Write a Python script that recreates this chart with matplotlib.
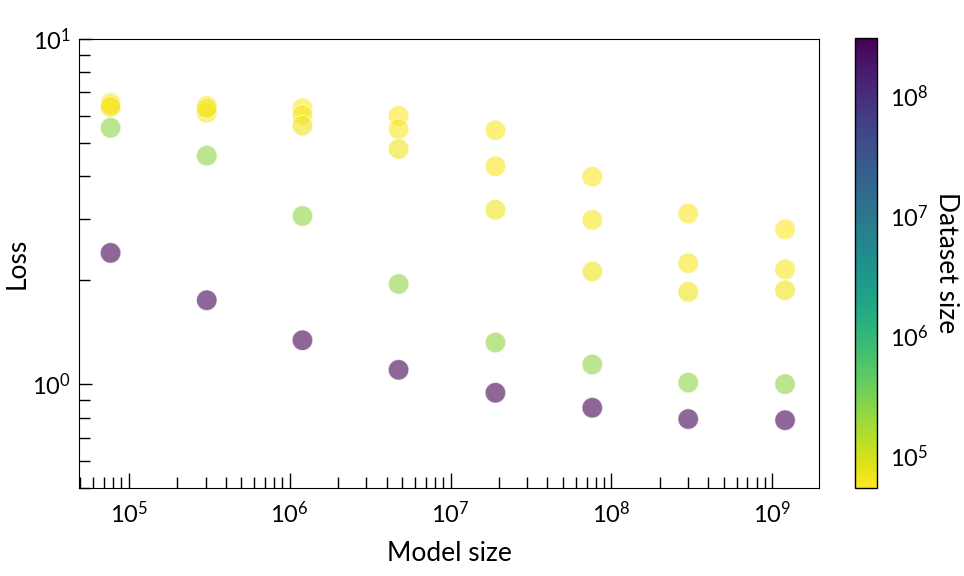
import numpy as np
import matplotlib
matplotlib.use('Agg')
from matplotlib import pyplot as plt
from matplotlib.colors import LogNorm
from matplotlib.cm import ScalarMappable

plt.rcParams['font.family'] = ['Lato', 'DejaVu Sans']
plt.rcParams['mathtext.fontset'] = 'custom'
plt.rcParams['mathtext.rm'] = 'Lato'
plt.rcParams['mathtext.it'] = 'Lato:italic'
plt.rcParams['mathtext.bf'] = 'Lato:bold'

# model sizes (x positions of the columns)
model_sizes = [7.7e4, 3.05e5, 1.2e6, 4.75e6, 1.9e7, 7.6e7, 3.0e8, 1.2e9]
# dataset sizes used for colour
data_small = [5.4e4, 5.8e4, 6.4e4]
data_mid = 2.3e5
data_big = 3.0e8

# loss per dataset, one value per model size
loss_y1 = [6.55, 6.40, 6.30, 5.99, 5.44, 3.99, 3.12, 2.81]
loss_y2 = [6.45, 6.11, 6.02, 5.48, 4.28, 2.99, 2.24, 2.15]
loss_y3 = [6.35, 6.30, 5.61, 4.80, 3.20, 2.12, 1.85, 1.87]
loss_mid = [5.53, 4.59, 3.07, 1.95, 1.32, 1.14, 1.01, 1.00]
loss_big = [2.40, 1.75, 1.34, 1.10, 0.944, 0.854, 0.792, 0.786]

xs, ys, cs = [], [], []
for d, l in zip(data_small + [data_mid, data_big],
                [loss_y1, loss_y2, loss_y3, loss_mid, loss_big]):
    xs += model_sizes
    ys += l
    cs += [d] * len(l)

fig = plt.figure(figsize=(9.64, 5.76), dpi=100)
ax = fig.add_axes([79/964, 1-488/576, 740/964, 449/576])
cax = fig.add_axes([855/964, 1-488/576, 22/964, 450/576])

norm = LogNorm(vmin=5.4e4, vmax=3.0e8)
sc = ax.scatter(xs, ys, c=cs, cmap='viridis_r', norm=norm, s=220,
                alpha=0.6, edgecolors='white', linewidths=0.8)
ax.set_xscale('log')
ax.set_yscale('log')
ax.set_xlim(4.9e4, 1.95e9)
ax.set_ylim(0.5, 10)
ax.tick_params(which='major', direction='in', length=11, width=1, labelsize=17, pad=9)
ax.tick_params(which='minor', direction='in', length=8, width=1)
ax.tick_params(axis='y', which='major', length=9, pad=6)
ax.yaxis.set_minor_formatter(plt.NullFormatter())
ax.set_xlabel('Model size', fontsize=19, labelpad=10)
ax.set_ylabel('Loss', fontsize=19, labelpad=2)

cb = fig.colorbar(ScalarMappable(norm=norm, cmap='viridis_r'), cax=cax)
cb.ax.tick_params(which='both', length=0, labelsize=17, pad=9)
cb.outline.set_linewidth(1)
cb.set_label('Dataset size', fontsize=19, rotation=270, labelpad=22)
cb.ax.yaxis.set_minor_locator(plt.NullLocator())

fig.savefig('out.png', dpi=100)
